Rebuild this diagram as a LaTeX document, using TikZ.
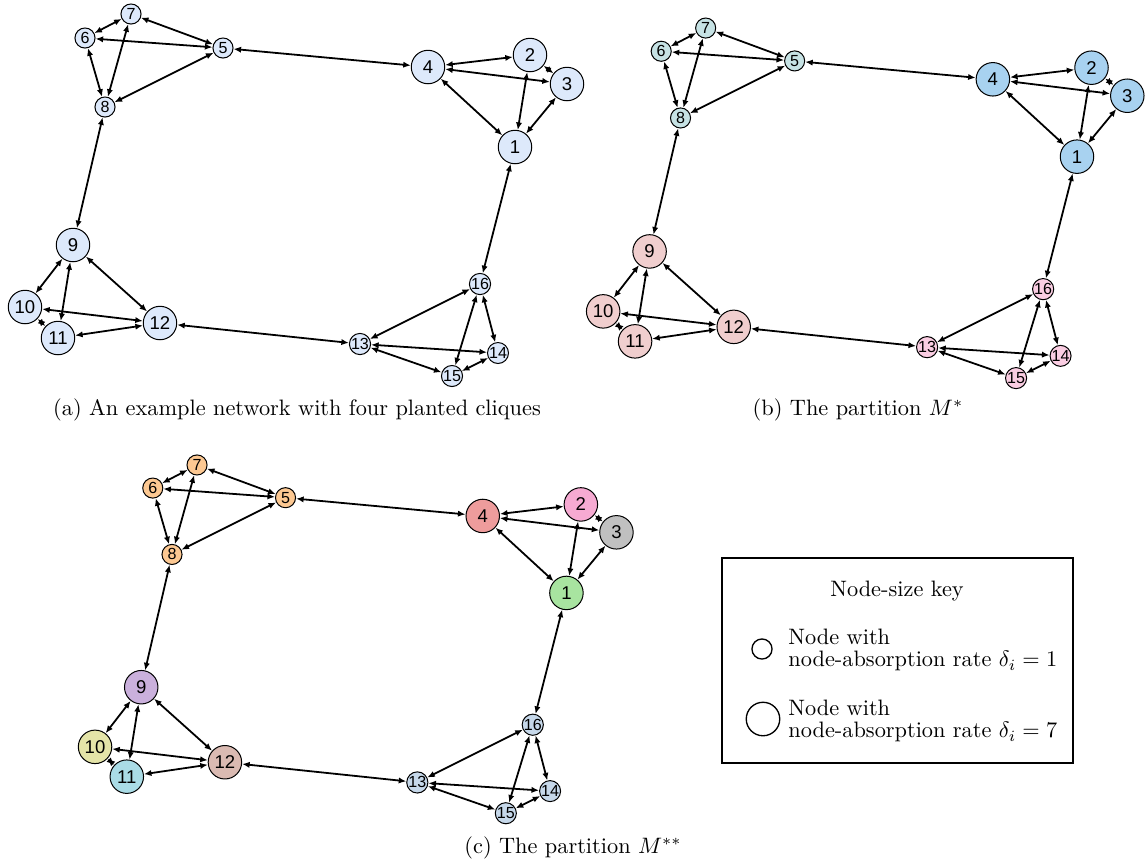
\documentclass[tikz,border=0pt]{standalone}
\usepackage{fontspec}
\usetikzlibrary{arrows.meta}
\newfontfamily\nodefont{Liberation Sans}

\definecolor{netA}{RGB}{221,233,251}
\definecolor{blueB}{RGB}{168,210,240}
\definecolor{tealB}{RGB}{198,226,228}
\definecolor{roseB}{RGB}{240,206,206}
\definecolor{pinkB}{RGB}{250,205,226}
\definecolor{greenC}{RGB}{168,228,160}
\definecolor{pinkC}{RGB}{246,170,210}
\definecolor{greyC}{RGB}{192,192,192}
\definecolor{redC}{RGB}{238,156,156}
\definecolor{orangeC}{RGB}{252,200,146}
\definecolor{purpleC}{RGB}{202,176,220}
\definecolor{oliveC}{RGB}{228,228,168}
\definecolor{cyanC}{RGB}{170,220,230}
\definecolor{brownC}{RGB}{218,186,178}
\definecolor{steelC}{RGB}{198,216,234}

\tikzstyle{connector} = [line width=0.8pt, <->, >={Latex[length=3.4pt,width=2.8pt]}]
\tikzstyle{bignode} = [circle, draw, line width=0.45pt, inner sep=0pt, minimum size=15pt, font=\nodefont\fontsize{8.3}{9}\selectfont]
\tikzstyle{smallnode} = [circle, draw, line width=0.45pt, inner sep=0pt, minimum size=9pt, font=\nodefont\fontsize{7.2}{8}\selectfont]
\tikzstyle{keycircle} = [circle, draw, line width=0.6pt, inner sep=0pt]

\newcommand{\groupcol}[5]{\colorlet{v#1}{#5}\colorlet{v#2}{#5}\colorlet{v#3}{#5}\colorlet{v#4}{#5}}

\newcommand{\drawnet}{
    \node (1) [bignode, fill=v1] at (515,147) {1};
    \node (2) [bignode, fill=v2] at (530,55) {2};
    \node (3) [bignode, fill=v3] at (567,84) {3};
    \node (4) [bignode, fill=v4] at (428,67) {4};
    \node (5) [smallnode, fill=v5] at (223,48) {5};
    \node (6) [smallnode, fill=v6] at (85,38) {6};
    \node (7) [smallnode, fill=v7] at (131,14) {7};
    \node (8) [smallnode, fill=v8] at (105,107) {8};
    \node (9) [bignode, fill=v9] at (73,245) {9};
    \node (10) [bignode, fill=v10] at (25,307) {10};
    \node (11) [bignode, fill=v11] at (58,338) {11};
    \node (12) [bignode, fill=v12] at (160,323) {12};
    \node (13) [smallnode, fill=v13] at (360,344) {13};
    \node (14) [smallnode, fill=v14] at (498,353) {14};
    \node (15) [smallnode, fill=v15] at (452,376) {15};
    \node (16) [smallnode, fill=v16] at (480,284) {16};

    \foreach \u/\v in {1/2,1/3,1/4,2/3,2/4,3/4,5/6,5/7,5/8,6/7,6/8,7/8,9/10,9/11,9/12,10/11,10/12,11/12,13/14,13/15,13/16,14/15,14/16,15/16,4/5,8/9,12/13,16/1}
        \draw [connector] (\u) -- (\v);
}

\begin{document}
\begin{tikzpicture}[x=0.448pt, y=-0.448pt]
    \useasboundingbox (0,0) rectangle (1146,861);

    \begin{scope}[name prefix=a]
        \groupcol{1}{2}{3}{4}{netA}
        \groupcol{5}{6}{7}{8}{netA}
        \groupcol{9}{10}{11}{12}{netA}
        \groupcol{13}{14}{15}{16}{netA}
        \drawnet
    \end{scope}

    \begin{scope}[name prefix=b, shift={(579,14.5)}, scale=0.967]
        \groupcol{1}{2}{3}{4}{blueB}
        \groupcol{5}{6}{7}{8}{tealB}
        \groupcol{9}{10}{11}{12}{roseB}
        \groupcol{13}{14}{15}{16}{pinkB}
        \drawnet
    \end{scope}

    \begin{scope}[name prefix=c, shift={(71,451.5)}, scale=0.962]
        \colorlet{v1}{greenC}
        \colorlet{v2}{pinkC}
        \colorlet{v3}{greyC}
        \colorlet{v4}{redC}
        \groupcol{5}{6}{7}{8}{orangeC}
        \colorlet{v9}{purpleC}
        \colorlet{v10}{oliveC}
        \colorlet{v11}{cyanC}
        \colorlet{v12}{brownC}
        \groupcol{13}{14}{15}{16}{steelC}
        \drawnet
    \end{scope}

    \node (capa) at (297,410) {(a) An example network with four planted cliques};
    \node (capb) at (858,410) {(b) The partition $M^*$};
    \node (capc) at (573,848) {(c) The partition $M^{**}$};

    \draw [line width=0.9pt] (722,558) rectangle (1073,763);
    \node (keytitle) at (897,591) {Node-size key};
    \node (keysmall) [keycircle, minimum size=9pt] at (762,649) {};
    \node (keybig) [keycircle, minimum size=15pt] at (763,719) {};
    \node (keytxt1) [anchor=west, align=left, inner sep=0pt, font=\fontsize{10}{10}\selectfont] at (788,650) {Node with\\node-absorption rate $\delta_i=1$};
    \node (keytxt2) [anchor=west, align=left, inner sep=0pt, font=\fontsize{10}{10}\selectfont] at (788,721) {Node with\\node-absorption rate $\delta_i=7$};
\end{tikzpicture}
\end{document}
